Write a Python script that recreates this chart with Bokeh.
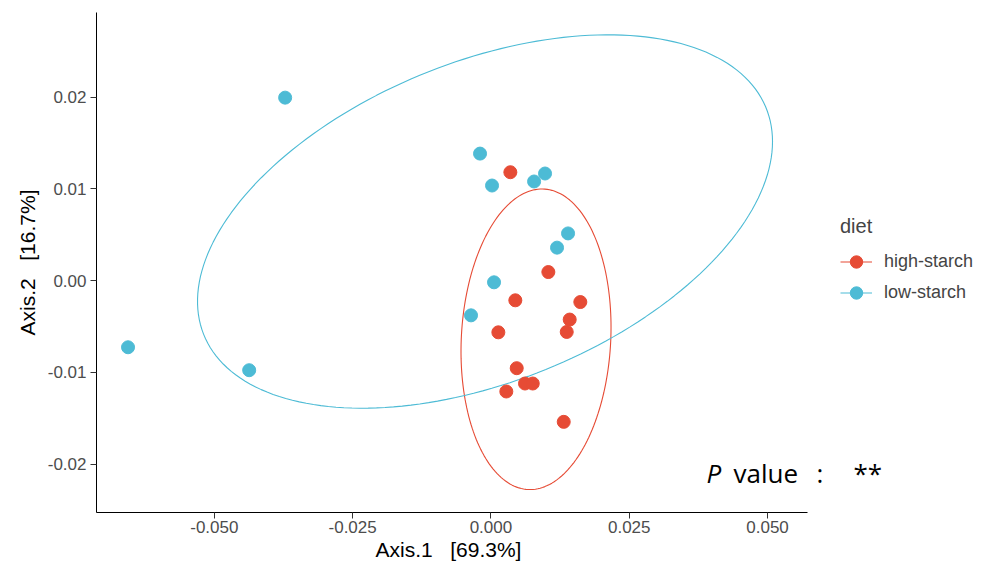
import numpy as np
from bokeh.plotting import figure
from bokeh.models import (Range1d, FixedTicker, NumeralTickFormatter, Legend,
                          LegendItem, Label, Title)
from bokeh.embed import file_html
from bokeh.resources import INLINE

# ---- data ----
high_x = [0.00351, 0.01038, 0.00441, 0.01616, 0.01424, 0.0137, 0.00134,
          0.00466, 0.00616, 0.00756, 0.00278, 0.01316]
high_y = [0.01182, 0.00094, -0.00214, -0.00233, -0.00424, -0.00559, -0.00563,
          -0.00954, -0.01121, -0.01121, -0.01208, -0.01539]
low_x = [-0.0656, -0.0437, -0.0372, -0.00197, 0.0002, 0.0078, 0.00978,
         0.01394, 0.01195, 0.00056, -0.0036]
low_y = [-0.00726, -0.00976, 0.01995, 0.01385, 0.01037, 0.01081, 0.01168,
         0.00515, 0.0036, -0.00018, -0.00378]

# ellipse parameters: centre x, centre y, semi-extent x, semi-extent y, correlation
high_ell = [0.00815, -0.00639, 0.01356, 0.01638, 0.08]
low_ell = [-0.00107, 0.00645, 0.05197, 0.02035, 0.428]

x_ticks = [-0.05, -0.025, 0.0, 0.025, 0.05]
y_ticks = [-0.02, -0.01, 0.0, 0.01, 0.02]
x_axis_span = (-0.0713, 0.0573)

RED = "#E64B35"
BLUE = "#4DBBD5"


def ellipse_pts(par, n=200):
    cx, cy, ax, ay, r = par
    t = np.linspace(0, 2 * np.pi, n)
    xs = cx + ax * np.cos(t)
    ys = cy + ay * (r * np.cos(t) + np.sqrt(1 - r * r) * np.sin(t))
    return xs, ys


# frame runs to the right edge so the legend and note are not clipped;
# the x axis line itself is limited to the plotting span via bounds
p = figure(width=983, height=572, output_backend="svg", toolbar_location=None,
           x_range=Range1d(-0.0713, 0.08904), y_range=Range1d(-0.02527, 0.02923),
           min_border_left=96, min_border_right=0, min_border_top=12,
           min_border_bottom=60)
p.outline_line_color = None
p.xgrid.visible = False
p.ygrid.visible = False
p.background_fill_color = "white"
p.border_fill_color = "white"

ex, ey = ellipse_pts(high_ell)
l_high = p.line(ex, ey, line_color=RED, line_width=1.1)
ex, ey = ellipse_pts(low_ell)
l_low = p.line(ex, ey, line_color=BLUE, line_width=1.1)

s_high = p.scatter(x=high_x, y=high_y, size=13, fill_color=RED, line_color=RED)
s_low = p.scatter(x=low_x, y=low_y, size=13, fill_color=BLUE, line_color=BLUE)

for ax in (p.xaxis[0], p.yaxis[0]):
    ax.axis_line_color = "black"
    ax.axis_line_width = 1
    ax.major_tick_line_color = "#333333"
    ax.major_tick_out = 6
    ax.major_tick_in = 0
    ax.minor_tick_line_color = None
    ax.major_label_text_font = "Liberation Sans"
    ax.major_label_text_font_size = "17px"
    ax.major_label_text_color = "#4D4D4D"
    ax.major_label_standoff = 4
    ax.axis_label_text_font = "Liberation Sans"
    ax.axis_label_text_font_size = "21px"
    ax.axis_label_text_font_style = "normal"
    ax.axis_label_text_color = "black"
    ax.axis_label_standoff = 6

p.xaxis[0].major_label_standoff = 2
p.xaxis[0].bounds = x_axis_span
p.xaxis[0].ticker = FixedTicker(ticks=x_ticks)
p.xaxis[0].formatter = NumeralTickFormatter(format="0.000")
p.yaxis[0].ticker = FixedTicker(ticks=y_ticks)
p.yaxis[0].formatter = NumeralTickFormatter(format="0.00")
p.yaxis[0].axis_label = "Axis.2\u00a0\u00a0\u00a0[16.7%]"

# x-axis title, centred under the axis span (not the wider frame)
xtitle = Title(text="Axis.1\u00a0\u00a0\u00a0[69.3%]", align="left", offset=279,
               text_font="Liberation Sans", text_font_size="21px",
               text_font_style="normal", text_color="black", standoff=0)
p.add_layout(xtitle, "below")

legend = Legend(items=[LegendItem(label="high-starch", renderers=[l_high, s_high]),
                       LegendItem(label="low-starch", renderers=[l_low, s_low])],
                title="diet", location=(744, 204), padding=0, margin=0, spacing=0,
                glyph_width=32, glyph_height=31, label_height=31, label_standoff=12,
                title_standoff=8, border_line_color=None, background_fill_alpha=0,
                label_text_font="Liberation Sans", label_text_font_size="18px",
                title_text_font="Liberation Sans", title_text_font_size="20px",
                title_text_font_style="normal", label_text_baseline="middle")
p.add_layout(legend)

common = dict(x_units="screen", y_units="screen", text_font="Open Sans",
              text_font_size="26px", text_color="black", text_baseline="alphabetic")
p.add_layout(Label(x=610, y=40, text="P", text_font_style="italic", **common))
p.add_layout(Label(x=637, y=40, text="value", **common))
p.add_layout(Label(x=720, y=40, text=":", **common))
p.add_layout(Label(x=757, y=40, text="**", **common))

open("out.html", "w").write(file_html(p, INLINE))
